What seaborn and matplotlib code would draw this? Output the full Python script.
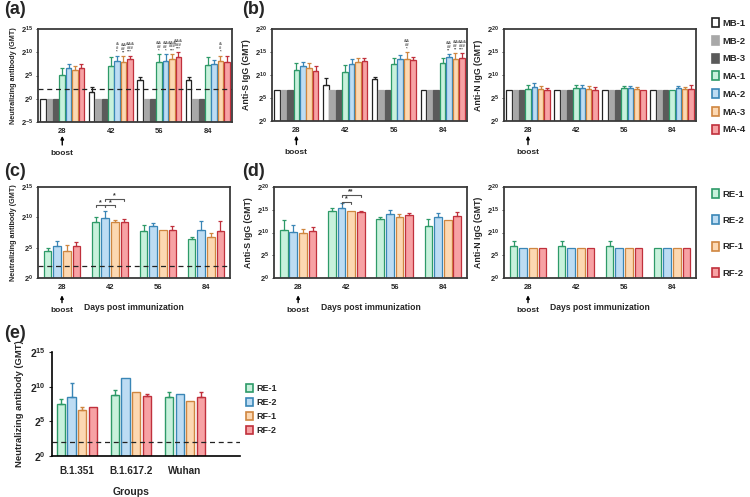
import numpy as np
import pandas as pd
import matplotlib
matplotlib.use("Agg")
import matplotlib.pyplot as plt
from matplotlib.patches import Patch
import seaborn as sns

# ######################### Data (log2 GMT) #########################

DAYS = ["28", "42", "56", "84"]
M_GROUPS = ["MB-1", "MB-2", "MB-3", "MA-1", "MA-2", "MA-3", "MA-4"]
R_GROUPS = ["RE-1", "RE-2", "RF-1", "RF-2"]
VARIANTS = ["B.1.351", "B.1.617.2", "Wuhan"]

# (a) neutralizing antibody, rows = day, cols = group
A_NAB = [[0, 0, 0, 5.2, 6.6, 6.2, 6.6],
         [1.4, 0, 0, 7.1, 8.1, 7.9, 8.5],
         [4.1, 0, 0, 7.8, 8.1, 8.5, 8.9],
         [4.1, 0, 0, 7.3, 7.4, 8.1, 7.8]]
A_NAB_ERR = [[0, 0, 0, 1.5, 0.8, 0.8, 0.8],
             [1.1, 0, 0, 1.8, 1.2, 1.3, 0.8],
             [0.6, 0, 0, 1.8, 1.5, 1.2, 1.2],
             [0.6, 0, 0, 1.7, 1.0, 1.2, 1.5]]
A_NAB_SIG = [(1, 4, "&\n#\n*"), (1, 5, "&&\n##\n**"), (1, 6, "&&&\n###\n***"),
             (2, 3, "&&\n##\n*"), (2, 4, "&&\n##\n*"), (2, 5, "&&&\n###\n***"),
             (2, 6, "&&&\n###\n***"), (3, 5, "&\n#\n*")]

# (b) anti-S IgG
B_ANTIS = [[6.64, 6.64, 6.64, 11.0, 12.0, 11.5, 10.8],
           [7.9, 6.64, 6.64, 10.7, 12.3, 12.8, 13.0],
           [9.2, 6.64, 6.64, 12.3, 13.4, 13.4, 13.2],
           [6.64, 6.64, 6.64, 12.7, 13.9, 13.4, 13.6]]
B_ANTIS_ERR = [[0, 0, 0, 1.5, 0.8, 1.0, 1.2],
               [1.4, 0, 0, 1.5, 1.2, 1.0, 0.6],
               [0.3, 0, 0, 1.5, 1.0, 1.6, 0.8],
               [0, 0, 0, 1.0, 0.7, 1.3, 1.2]]
B_ANTIS_SIG = [(2, 5, "&&\n##\n*"), (3, 4, "&&\n##\n**"),
               (3, 5, "&&\n##\n**"), (3, 6, "&&&\n###\n***")]

# (b) anti-N IgG
B_ANTIN = [[6.64, 6.64, 6.64, 7.0, 7.4, 7.0, 6.8],
           [6.64, 6.64, 6.64, 7.1, 7.1, 7.0, 6.8],
           [6.64, 6.64, 6.64, 7.1, 7.1, 6.9, 6.64],
           [6.64, 6.64, 6.64, 6.64, 7.1, 6.9, 7.0]]
B_ANTIN_ERR = [[0, 0, 0, 0.8, 0.8, 0.6, 0.4],
               [0, 0, 0, 0.7, 0.7, 0.6, 0.5],
               [0, 0, 0, 0.6, 0.6, 0.5, 0],
               [0, 0, 0, 0, 0.6, 0.5, 0.8]]

# (c) neutralizing antibody, booster groups
C_NAB = [[4.5, 5.2, 4.5, 5.2],
         [9.2, 9.9, 9.2, 9.2],
         [7.8, 8.6, 7.9, 7.9],
         [6.4, 7.9, 6.7, 7.8]]
C_NAB_ERR = [[0.5, 0.9, 0.9, 0.8],
             [0.9, 1.2, 0.4, 0.5],
             [0.9, 0.5, 0, 0.7],
             [0.4, 1.5, 0.7, 1.6]]

# (d) anti-S / anti-N IgG, booster groups
D_ANTIS = [[10.6, 10.1, 9.9, 10.4],
           [14.7, 15.4, 14.7, 14.4],
           [13.0, 14.1, 13.5, 13.8],
           [11.5, 13.4, 12.7, 13.7]]
D_ANTIS_ERR = [[2.2, 1.5, 0.8, 0.7],
               [0.7, 1.0, 0, 0.4],
               [0.4, 0.8, 0.6, 0.5],
               [1.5, 0.8, 0, 0.7]]
D_ANTIN = [[7.1, 6.64, 6.64, 6.64],
           [7.1, 6.64, 6.64, 6.64],
           [7.1, 6.64, 6.64, 6.64],
           [6.64, 6.64, 6.64, 6.64]]
D_ANTIN_ERR = [[1.0, 0, 0, 0],
               [1.0, 0, 0, 0],
               [1.0, 0, 0, 0],
               [0, 0, 0, 0]]

# (e) neutralizing antibody against variants
E_NAB = [[7.5, 8.5, 6.7, 7.0],
         [8.8, 11.3, 9.3, 8.6],
         [8.5, 9.0, 8.0, 8.5]]
E_NAB_ERR = [[0.7, 2.0, 0.3, 0],
             [0.7, 0, 0, 0.3],
             [0.7, 0, 0, 0.7]]

LOD = 2

M_FACE = ["#ffffff", "#a8a8a8", "#5a5a5a", "#c8f1dc", "#bddcf3", "#fcd8b2", "#f7a2a4"]
M_EDGE = ["#222222", "#a8a8a8", "#5a5a5a", "#2e9a68", "#3a86b6", "#cf8640", "#c0303c"]
R_FACE = M_FACE[3:]
R_EDGE = M_EDGE[3:]

# ######################### Style #########################

sns.set_theme(style="white")
plt.rcParams["font.family"] = ["Liberation Sans", "DejaVu Sans"]
plt.rcParams["font.weight"] = "bold"
plt.rcParams["axes.labelweight"] = "bold"
plt.rcParams["mathtext.fontset"] = "custom"
plt.rcParams["mathtext.rm"] = "Liberation Sans:bold"
plt.rcParams["mathtext.default"] = "rm"

W, H = 750, 497


def fig_rect(x0, y0, x1, y1):
    return [x0 / W, 1 - y1 / H, (x1 - x0) / W, (y1 - y0) / H]


def bar_panel(ax, cats, groups, vals, errs, face, edge, ylo, yhi,
              width=0.92, gap=0.12, lw=0.9, tick_fs=5.5):
    n = len(groups)
    df = pd.DataFrame({
        "cat": np.repeat(cats, n),
        "group": list(groups) * len(cats),
        "h": np.ravel(vals) - ylo,
    })
    sns.barplot(data=df, x="cat", y="h", hue="group", order=cats,
                hue_order=groups, palette=face, saturation=1, width=width,
                gap=gap, errorbar=None, legend=False, linewidth=lw, ax=ax)
    err = np.array(errs)
    bars = list(ax.containers)
    for gi, cont in enumerate(bars):
        for ci, bar in enumerate(cont):
            bar.set_edgecolor(edge[gi])
            if err[ci, gi] > 0:
                x = bar.get_x() + bar.get_width() / 2
                ax.errorbar(x, bar.get_height(), yerr=[[0], [err[ci, gi]]],
                            fmt="none", ecolor=edge[gi], elinewidth=lw,
                            capsize=1.6, capthick=lw)
    ax.set_ylim(0, yhi - ylo)
    ax.set_xlim(-0.5, len(cats) - 0.5)
    ticks = np.arange(ylo, yhi + 1, 5)
    ax.set_yticks(ticks - ylo)
    ax.set_yticklabels([f"$2^{{{t}}}$" for t in ticks])
    ax.set_xlabel("")
    ax.set_ylabel("")
    ax.tick_params(axis="both", labelsize=tick_fs, pad=2)
    ax.tick_params(axis="x", length=0, pad=4)
    ax.tick_params(axis="y", length=1.5, width=0.6, left=True)
    for s in ax.spines.values():
        s.set_color("#3a3a3a")
        s.set_linewidth(1.3)
    return bars


def add_sig(ax, bars, sigs, vals, errs, ylo):
    for ci, gi, txt in sigs:
        bar = bars[gi][ci]
        x = bar.get_x() + bar.get_width() / 2
        y = vals[ci][gi] + errs[ci][gi] - ylo + 0.3
        ax.text(x, y, txt, ha="center", va="bottom", fontsize=3.0,
                color="#444444", linespacing=0.95)


def add_boost(ax, y_tip, y_txt):
    ax.annotate("boost", xy=(0, y_tip), xycoords=("data", "axes fraction"),
                xytext=(0, y_txt), textcoords=("data", "axes fraction"),
                ha="center", va="center", fontsize=6, annotation_clip=False,
                arrowprops=dict(arrowstyle="-|>", color="black", lw=1.0,
                                mutation_scale=4.5, shrinkA=1, shrinkB=0))


def bracket(ax, x0, x1, y, txt, tick=0.35):
    ax.plot([x0, x0, x1, x1], [y - tick, y, y, y - tick], color="#555555", lw=0.8)
    ax.text((x0 + x1) / 2, y - 0.1, txt, ha="center", va="bottom",
            fontsize=5, color="#333333")


def group_legend(groups, face, edge, x, y, size, spacing, hh=1.0):
    return fig.legend(handles=[Patch(facecolor=f, edgecolor=e, linewidth=1.2, label=g)
                               for g, f, e in zip(groups, face, edge)],
                      loc="upper left", bbox_to_anchor=(x / W, 1 - y / H),
                      frameon=False, prop=dict(weight="bold", size=size),
                      handlelength=0.75, handleheight=hh, handletextpad=0.35,
                      labelspacing=spacing, borderaxespad=0, borderpad=0)


fig = plt.figure(figsize=(W / 100, H / 100), dpi=100)

# ######################### Row 1 #########################

ax_a = fig.add_axes(fig_rect(38, 29, 232, 122))
bars = bar_panel(ax_a, DAYS, M_GROUPS, A_NAB, A_NAB_ERR, M_FACE, M_EDGE, -5, 15)
ax_a.axhline(LOD + 5, color="#222222", lw=0.9, ls=(0, (4, 3)))
add_sig(ax_a, bars, A_NAB_SIG, A_NAB, A_NAB_ERR, -5)
ax_a.set_ylabel("Neutralizing antibody (GMT)", fontsize=5.2, labelpad=3)
add_boost(ax_a, -0.15, -0.335)

ax_bs = fig.add_axes(fig_rect(272, 29, 467, 121))
bars = bar_panel(ax_bs, DAYS, M_GROUPS, B_ANTIS, B_ANTIS_ERR, M_FACE, M_EDGE, 0, 20)
add_sig(ax_bs, bars, B_ANTIS_SIG, B_ANTIS, B_ANTIS_ERR, 0)
ax_bs.set_ylabel("Anti-S IgG (GMT)", fontsize=6.3, labelpad=3)
add_boost(ax_bs, -0.16, -0.345)

ax_bn = fig.add_axes(fig_rect(504, 29, 696, 121))
bar_panel(ax_bn, DAYS, M_GROUPS, B_ANTIN, B_ANTIN_ERR, M_FACE, M_EDGE, 0, 20)
ax_bn.set_ylabel("Anti-N IgG (GMT)", fontsize=6.3, labelpad=3)
add_boost(ax_bn, -0.16, -0.345)

group_legend(M_GROUPS, M_FACE, M_EDGE, 712, 18, 6.8, 0.85, hh=1.1)

# ######################### Row 2 #########################

ax_c = fig.add_axes(fig_rect(38, 187, 230, 278))
bar_panel(ax_c, DAYS, R_GROUPS, C_NAB, C_NAB_ERR, R_FACE, R_EDGE, 0, 15,
          width=0.8, gap=0.2)
ax_c.axhline(LOD, color="#222222", lw=0.9, ls=(0, (4, 3)))
bracket(ax_c, 1 - 0.3, 1 - 0.1, 12.0, "*")
bracket(ax_c, 1 - 0.1, 1 + 0.1, 12.0, "*")
bracket(ax_c, 1 - 0.1, 1 + 0.3, 13.1, "*")
ax_c.set_ylabel("Neutralizing antibody (GMT)", fontsize=5.2, labelpad=3)
add_boost(ax_c, -0.19, -0.36)

ax_ds = fig.add_axes(fig_rect(274, 187, 467, 278))
bar_panel(ax_ds, DAYS, R_GROUPS, D_ANTIS, D_ANTIS_ERR, R_FACE, R_EDGE, 0, 20,
          width=0.8, gap=0.2)
bracket(ax_ds, 1 - 0.1, 1 + 0.1, 16.8, "*", tick=0.45)
bracket(ax_ds, 1 - 0.1, 1 + 0.3, 18.3, "**", tick=0.45)
ax_ds.set_ylabel("Anti-S IgG (GMT)", fontsize=6.3, labelpad=3)
add_boost(ax_ds, -0.19, -0.36)

ax_dn = fig.add_axes(fig_rect(504, 187, 696, 278))
bar_panel(ax_dn, DAYS, R_GROUPS, D_ANTIN, D_ANTIN_ERR, R_FACE, R_EDGE, 0, 20,
          width=0.8, gap=0.2)
ax_dn.set_ylabel("Anti-N IgG (GMT)", fontsize=6.3, labelpad=3)
add_boost(ax_dn, -0.19, -0.36)

for ax in (ax_c, ax_ds, ax_dn):
    ax.set_xlabel("Days post immunization", fontsize=6.2)
    ax.xaxis.set_label_coords(0.5, -0.27)

group_legend(R_GROUPS, R_FACE, R_EDGE, 712, 189, 6.8, 1.75, hh=1.1)

# ######################### Row 3 #########################

ax_e = fig.add_axes(fig_rect(52, 352, 240, 456))
bar_panel(ax_e, VARIANTS, R_GROUPS, E_NAB, E_NAB_ERR, R_FACE, R_EDGE, 0, 15,
          width=0.78, gap=0.22, lw=1.0, tick_fs=7.5)
ax_e.set_xlim(-0.46, 3.02)
ax_e.axhline(LOD, color="#222222", lw=0.9, ls=(0, (4, 3)))
sns.despine(ax=ax_e)
for s in ("left", "bottom"):
    ax_e.spines[s].set_color("black")
    ax_e.spines[s].set_linewidth(1.2)
ax_e.tick_params(axis="x", labelsize=7.2, pad=7)
ax_e.tick_params(axis="y", length=2.5, width=0.8)
ax_e.set_ylabel("Neutralizing antibody (GMT)", fontsize=6.8, labelpad=4)
ax_e.set_xlabel("Groups", fontsize=7.5)
ax_e.xaxis.set_label_coords(0.42, -0.3)

group_legend(R_GROUPS, R_FACE, R_EDGE, 246, 384, 6.5, 0.55)

# ######################### Panel letters #########################

for x, y, s in [(4, 10, "(a)"), (242, 10, "(b)"), (4, 172, "(c)"),
                (242, 172, "(d)"), (4, 334, "(e)")]:
    fig.text(x / W, 1 - y / H, s, fontsize=13, weight="bold", va="center")

fig.savefig("out.png", dpi=100)
